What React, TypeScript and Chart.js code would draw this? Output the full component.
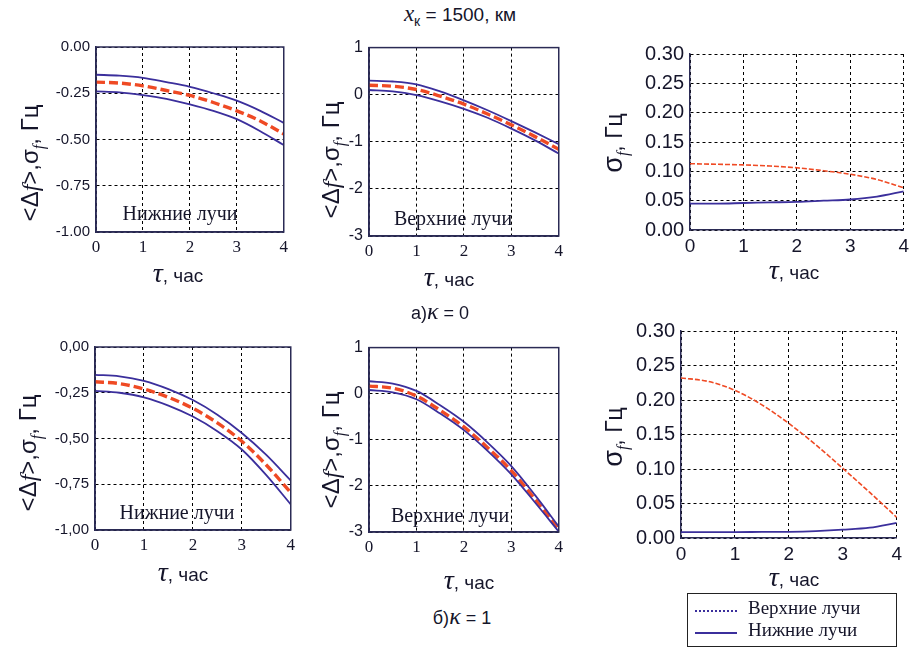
import React, { useEffect, useRef } from "react";
import { Chart, registerables } from "chart.js";
Chart.register(...registerables);

// τ, час
const TAU = [0, 0.5, 1, 1.5, 2, 2.5, 3, 3.5, 4];

// а) κ = 0, нижние лучи: <Δf> ± σ
const k0LowUpper = [-0.15, -0.155, -0.167, -0.19, -0.215, -0.25, -0.29, -0.345, -0.41];
const k0LowMean = [-0.19, -0.195, -0.21, -0.235, -0.262, -0.3, -0.345, -0.4, -0.47];
const k0LowLower = [-0.24, -0.245, -0.26, -0.28, -0.31, -0.345, -0.39, -0.455, -0.53];

// а) κ = 0, верхние лучи
const k0HighUpper = [0.3, 0.28, 0.22, 0.07, -0.12, -0.33, -0.56, -0.8, -1.05];
const k0HighMean = [0.2, 0.18, 0.11, -0.03, -0.2, -0.41, -0.64, -0.89, -1.16];
const k0HighLower = [0.1, 0.07, -0.01, -0.14, -0.3, -0.49, -0.72, -0.97, -1.25];

// а) κ = 0, σf
const k0SigmaHigh = [0.113, 0.112, 0.111, 0.109, 0.106, 0.101, 0.095, 0.086, 0.072];
const k0SigmaLow = [0.045, 0.045, 0.046, 0.047, 0.048, 0.05, 0.052, 0.057, 0.066];

// б) κ = 1, нижние лучи
const k1LowUpper = [-0.152, -0.16, -0.185, -0.23, -0.29, -0.37, -0.47, -0.59, -0.73];
const k1LowMean = [-0.19, -0.2, -0.23, -0.275, -0.335, -0.415, -0.515, -0.645, -0.795];
const k1LowLower = [-0.24, -0.25, -0.275, -0.32, -0.38, -0.46, -0.56, -0.7, -0.86];

// б) κ = 1, верхние лучи
const k1HighUpper = [0.27, 0.22, 0.06, -0.25, -0.61, -1.06, -1.57, -2.2, -2.88];
const k1HighMean = [0.165, 0.12, -0.05, -0.36, -0.72, -1.17, -1.67, -2.29, -2.95];
const k1HighLower = [0.08, 0.03, -0.12, -0.43, -0.79, -1.24, -1.75, -2.36, -2.99];

// б) κ = 1, σf
const k1SigmaHigh = [0.232, 0.227, 0.214, 0.193, 0.166, 0.135, 0.101, 0.066, 0.03];
const k1SigmaLow = [0.0085, 0.0085, 0.0085, 0.0088, 0.009, 0.01, 0.012, 0.015, 0.022];

const BLUE = "#3b2f9c";
const RED = "#ef4a24";
const SANS = "'Liberation Sans', Arial, sans-serif";
const SERIF = "'Liberation Serif', 'Times New Roman', serif";
const INK = "#15152a";

type Series = { values: number[]; color: string; width: number; dash: number[] };
type PanelCfg = {
  rect: [number, number, number, number];
  yMin: number;
  yMax: number;
  yStep: number;
  decimals: number;
  comma?: boolean;
  fullFrame: boolean;
  yTickSize: number;
  xTickFamily: string;
  xTickSize: number;
  series: Series[];
};

const YW = 70;
const XH = 34;
const PT = 12;
const PR = 8;

const bandSeries = (u: number[], m: number[], l: number[]): Series[] => [
  { values: u, color: BLUE, width: 1.8, dash: [] },
  { values: l, color: BLUE, width: 1.8, dash: [] },
  { values: m, color: RED, width: 3.4, dash: [9, 4] },
];

const PANELS: PanelCfg[] = [
  {
    rect: [96, 44, 285, 232], yMin: -1, yMax: 0, yStep: 0.25, decimals: 2, fullFrame: true,
    yTickSize: 15, xTickFamily: SERIF, xTickSize: 17,
    series: bandSeries(k0LowUpper, k0LowMean, k0LowLower),
  },
  {
    rect: [369, 44, 560, 236], yMin: -3, yMax: 1, yStep: 1, decimals: 0, fullFrame: true,
    yTickSize: 16, xTickFamily: SERIF, xTickSize: 17,
    series: bandSeries(k0HighUpper, k0HighMean, k0HighLower),
  },
  {
    rect: [690, 48, 906, 230], yMin: 0, yMax: 0.3, yStep: 0.05, decimals: 2, fullFrame: false,
    yTickSize: 20, xTickFamily: SANS, xTickSize: 19,
    series: [
      { values: k0SigmaLow, color: BLUE, width: 1.8, dash: [] },
      { values: k0SigmaHigh, color: RED, width: 1.6, dash: [5, 2] },
    ],
  },
  {
    rect: [95, 344, 292, 530], yMin: -1, yMax: 0, yStep: 0.25, decimals: 2, comma: true, fullFrame: true,
    yTickSize: 15, xTickFamily: SERIF, xTickSize: 17,
    series: bandSeries(k1LowUpper, k1LowMean, k1LowLower),
  },
  {
    rect: [369, 344, 560, 532], yMin: -3, yMax: 1, yStep: 1, decimals: 0, fullFrame: true,
    yTickSize: 16, xTickFamily: SERIF, xTickSize: 17,
    series: bandSeries(k1HighUpper, k1HighMean, k1HighLower),
  },
  {
    rect: [681, 325, 899, 538], yMin: 0, yMax: 0.3, yStep: 0.05, decimals: 2, fullFrame: false,
    yTickSize: 20, xTickFamily: SANS, xTickSize: 19,
    series: [
      { values: k1SigmaLow, color: BLUE, width: 1.8, dash: [] },
      { values: k1SigmaHigh, color: RED, width: 1.6, dash: [5, 2] },
    ],
  },
];

const framePlugin = {
  id: "frame",
  afterDraw(chart: any, _args: any, opts: any) {
    if (!opts || !opts.full) return;
    const { ctx, chartArea: a } = chart;
    ctx.save();
    ctx.strokeStyle = "#2b2b55";
    ctx.lineWidth = 1.5;
    ctx.setLineDash([]);
    ctx.strokeRect(a.left, a.top, a.right - a.left, a.bottom - a.top);
    ctx.restore();
  },
};

function Panel({ cfg }: { cfg: PanelCfg }) {
  const ref = useRef<HTMLCanvasElement>(null);
  const [l, t, r, b] = cfg.rect;
  const w = YW + (r - l) + PR;
  const h = PT + (b - t) + XH;
  useEffect(() => {
    const chart = new Chart(ref.current as HTMLCanvasElement, {
      type: "line",
      data: {
        datasets: cfg.series.map((s) => ({
          data: TAU.map((x, i) => ({ x, y: s.values[i] })),
          borderColor: s.color,
          borderWidth: s.width,
          borderDash: s.dash,
          pointRadius: 0,
          fill: false,
          tension: 0.4,
          cubicInterpolationMode: "monotone",
        })),
      },
      options: {
        responsive: false,
        animation: false,
        devicePixelRatio: 1,
        events: [],
        layout: { padding: { top: PT, right: PR, left: 0, bottom: 0 } },
        plugins: {
          legend: { display: false },
          tooltip: { enabled: false },
          frame: { full: cfg.fullFrame },
        } as any,
        scales: {
          x: {
            type: "linear",
            min: 0,
            max: 4,
            afterFit: (s: any) => { s.height = XH; },
            ticks: {
              stepSize: 1,
              color: INK,
              font: { family: cfg.xTickFamily, size: cfg.xTickSize },
              padding: 5,
              maxRotation: 0,
            },
            grid: { color: "#000", lineWidth: 1, drawTicks: false },
            border: { display: true, color: "#2b2b55", width: 1.5, dash: [3, 3] },
          },
          y: {
            type: "linear",
            min: cfg.yMin,
            max: cfg.yMax,
            afterFit: (s: any) => { s.width = YW; },
            ticks: {
              stepSize: cfg.yStep,
              color: INK,
              font: { family: SANS, size: cfg.yTickSize },
              padding: 6,
              callback: (v: any) => {
                const s = Number(v).toFixed(cfg.decimals);
                return cfg.comma ? s.replace(".", ",") : s;
              },
            },
            grid: { color: "#000", lineWidth: 1, drawTicks: false },
            border: { display: true, color: "#2b2b55", width: 1.5, dash: [3, 3] },
          },
        },
      },
      plugins: [framePlugin],
    } as any);
    return () => chart.destroy();
  }, []);
  return (
    <canvas
      ref={ref}
      width={w}
      height={h}
      style={{ position: "absolute", left: l - YW, top: t - PT, width: w, height: h }}
    />
  );
}

const abs = (x: number, y: number, extra: React.CSSProperties = {}): React.CSSProperties => ({
  position: "absolute",
  left: x,
  top: y,
  transform: "translate(-50%, -50%)",
  whiteSpace: "nowrap",
  color: INK,
  zIndex: 2,
  ...extra,
});

function YTitle({ x, y, full }: { x: number; y: number; full: boolean }) {
  return (
    <div style={abs(x, y, { transform: "translate(-50%, -50%) rotate(-90deg)", fontFamily: SANS, fontSize: full ? 24 : 23 })}>
      {full ? (
        <>
          {"<Δ"}
          <i style={{ fontFamily: SERIF }}>f</i>
          {">,σ"}
          <sub style={{ fontSize: 16 }}><i style={{ fontFamily: SERIF }}>f</i></sub>
          {", Гц"}
        </>
      ) : (
        <>
          <span style={{ fontSize: 27 }}>σ</span>
          <sub style={{ fontSize: 16 }}><i style={{ fontFamily: SERIF }}>f</i></sub>
          {", Гц"}
        </>
      )}
    </div>
  );
}

function XTitle({ x, y }: { x: number; y: number }) {
  return (
    <div style={abs(x, y, { fontFamily: SANS, fontSize: 19 })}>
      <i style={{ fontFamily: SERIF, fontSize: 28 }}>τ</i>
      {", час"}
    </div>
  );
}

function Note({ x, y, text }: { x: number; y: number; text: string }) {
  return <div style={abs(x, y, { fontFamily: SERIF, fontSize: 20 })}>{text}</div>;
}

export default function App() {
  return (
    <div style={{ position: "absolute", left: 0, top: 0, width: 909, height: 651, overflow: "hidden", background: "#fff" }}>
      {PANELS.map((p, i) => (
        <Panel key={i} cfg={p} />
      ))}

      <div style={abs(460, 15, { fontFamily: SANS, fontSize: 19 })}>
        <i style={{ fontFamily: SERIF, fontSize: 23 }}>x</i>
        <sub style={{ fontSize: 14 }}>к</sub>
        {" = 1500, км"}
      </div>
      <div style={abs(440, 311, { fontFamily: SANS, fontSize: 18 })}>
        {"а)"}
        <i style={{ fontFamily: SERIF, fontSize: 24 }}>κ</i>
        {" = 0"}
      </div>
      <div style={abs(462, 616, { fontFamily: SANS, fontSize: 18 })}>
        {"б)"}
        <i style={{ fontFamily: SERIF, fontSize: 24 }}>κ</i>
        {" = 1"}
      </div>

      <YTitle x={32} y={163} full />
      <YTitle x={333} y={160} full />
      <YTitle x={615} y={143} full={false} />
      <YTitle x={30} y={453} full />
      <YTitle x={333} y={450} full />
      <YTitle x={615} y={437} full={false} />

      <XTitle x={178} y={273} />
      <XTitle x={449} y={277} />
      <XTitle x={794} y={270} />
      <XTitle x={183} y={572} />
      <XTitle x={469} y={580} />
      <XTitle x={794} y={577} />

      <Note x={180} y={213} text="Нижние лучи" />
      <Note x={453} y={218} text="Верхние лучи" />
      <Note x={177} y={512} text="Нижние лучи" />
      <Note x={450} y={515} text="Верхние лучи" />

      <div
        style={{
          position: "absolute", left: 687, top: 593, width: 208, height: 52,
          border: "1.5px solid #222", zIndex: 2, fontFamily: SERIF, fontSize: 19, color: INK,
        }}
      >
        <div style={{ position: "absolute", left: 7, top: 16, width: 42, borderTop: `2px dotted ${BLUE}` }} />
        <div style={{ position: "absolute", left: 60, top: 3 }}>Верхние лучи</div>
        <div style={{ position: "absolute", left: 7, top: 38, width: 42, borderTop: `2px solid ${BLUE}` }} />
        <div style={{ position: "absolute", left: 60, top: 25 }}>Нижние лучи</div>
      </div>
    </div>
  );
}
